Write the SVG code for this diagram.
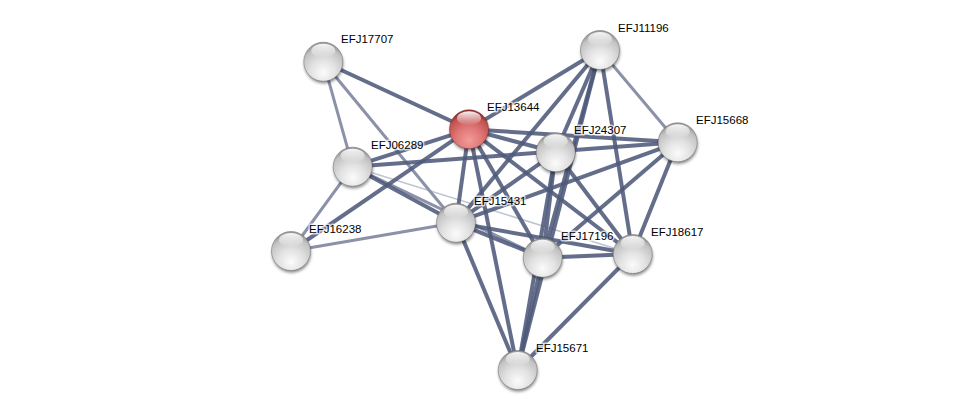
<svg xmlns="http://www.w3.org/2000/svg" width="976" height="414" viewBox="0 0 976 414">
<defs>
<style>
.e{fill:none;stroke-linecap:butt}
.s{stroke:#4f5a7b;stroke-width:4;stroke-opacity:0.88}
.m{stroke:#8a91a9;stroke-width:3}
.t{stroke:#c0c4d2;stroke-width:1.5}
.lbl{font-family:"Liberation Sans",Arial,sans-serif;font-size:11.5px;fill:#000;stroke:#fff;stroke-width:3;stroke-opacity:0.7;paint-order:stroke;stroke-linejoin:round}
.edge{stroke:#6a6a6a;stroke-width:0.8;stroke-opacity:0.6}
</style>
<radialGradient id="gg" cx="50%" cy="78%" r="72%">
<stop offset="0" stop-color="#fbfbfb"/>
<stop offset="0.45" stop-color="#e2e2e2"/>
<stop offset="0.85" stop-color="#c2c2c2"/>
<stop offset="1" stop-color="#9a9a9a"/>
</radialGradient>
<radialGradient id="gr" cx="50%" cy="78%" r="72%">
<stop offset="0" stop-color="#f49a9a"/>
<stop offset="0.45" stop-color="#e07878"/>
<stop offset="0.85" stop-color="#c25050"/>
<stop offset="1" stop-color="#933030"/>
</radialGradient>
<linearGradient id="hl" x1="0" y1="0" x2="0" y2="1">
<stop offset="0" stop-color="#fff" stop-opacity="0.95"/>
<stop offset="1" stop-color="#fff" stop-opacity="0"/>
</linearGradient>
<filter id="sh" x="-50%" y="-50%" width="200%" height="200%">
<feGaussianBlur stdDeviation="1.6"/>
</filter>
<g id="sg">
<circle cx="0.5" cy="2.2" r="19.5" fill="#000" fill-opacity="0.45" filter="url(#sh)"/>
<circle cx="0" cy="0" r="19.5" fill="url(#gg)" class="edge"/>
<ellipse cx="0" cy="-11" rx="12" ry="7" fill="url(#hl)"/>
</g>
<g id="sr">
<circle cx="0.5" cy="2.2" r="19.5" fill="#000" fill-opacity="0.45" filter="url(#sh)"/>
<circle cx="0" cy="0" r="19.5" fill="url(#gr)" stroke="#7a2a2a" stroke-width="0.8" stroke-opacity="0.6"/>
<ellipse cx="0" cy="-11" rx="12" ry="7" fill="url(#hl)"/>
</g>
</defs>
<rect width="976" height="414" fill="#fff"/>
<g id="connectors" class="e">
<line class="e t" x1="352.7" y1="166.7" x2="632.7" y2="254"/>
<line class="e m" x1="323.3" y1="61.7" x2="352.7" y2="166.7"/>
<line class="e m" x1="323.3" y1="61.7" x2="456" y2="222.7"/>
<line class="e m" x1="352.7" y1="166.7" x2="291" y2="251"/>
<line class="e m" x1="291" y1="251" x2="456" y2="222.7"/>
<line class="e m" x1="600" y1="50" x2="677.7" y2="142.3"/>
<line class="e m" x1="352.7" y1="166.7" x2="542.7" y2="257.7"/>
<line class="e s" x1="323.3" y1="61.7" x2="469" y2="129.3"/>
<line class="e s" x1="352.7" y1="166.7" x2="469" y2="129.3"/>
<line class="e s" x1="291" y1="251" x2="469" y2="129.3"/>
<line class="e s" x1="352.7" y1="166.7" x2="677.7" y2="142.3"/>
<line class="e s" x1="352.7" y1="166.7" x2="456" y2="222.7"/>
<line class="e s" x1="469" y1="129.3" x2="600" y2="50"/>
<line class="e s" x1="469" y1="129.3" x2="555.7" y2="152.3"/>
<line class="e s" x1="469" y1="129.3" x2="677.7" y2="142.3"/>
<line class="e s" x1="469" y1="129.3" x2="456" y2="222.7"/>
<line class="e s" x1="469" y1="129.3" x2="517.7" y2="370"/>
<line class="e s" x1="469" y1="129.3" x2="542.7" y2="257.7"/>
<line class="e s" x1="469" y1="129.3" x2="632.7" y2="254"/>
<line class="e s" x1="600" y1="50" x2="456" y2="222.7"/>
<line class="e s" x1="600" y1="50" x2="555.7" y2="152.3"/>
<line class="e s" x1="600" y1="50" x2="542.7" y2="257.7"/>
<line class="e s" x1="600" y1="50" x2="517.7" y2="370"/>
<line class="e s" x1="600" y1="50" x2="632.7" y2="254"/>
<line class="e s" x1="555.7" y1="152.3" x2="456" y2="222.7"/>
<line class="e s" x1="555.7" y1="152.3" x2="542.7" y2="257.7"/>
<line class="e s" x1="555.7" y1="152.3" x2="517.7" y2="370"/>
<line class="e s" x1="555.7" y1="152.3" x2="632.7" y2="254"/>
<line class="e s" x1="677.7" y1="142.3" x2="456" y2="222.7"/>
<line class="e s" x1="677.7" y1="142.3" x2="542.7" y2="257.7"/>
<line class="e s" x1="677.7" y1="142.3" x2="632.7" y2="254"/>
<line class="e s" x1="456" y1="222.7" x2="542.7" y2="257.7"/>
<line class="e s" x1="456" y1="222.7" x2="632.7" y2="254"/>
<line class="e s" x1="456" y1="222.7" x2="517.7" y2="370"/>
<line class="e s" x1="542.7" y1="257.7" x2="632.7" y2="254"/>
<line class="e s" x1="542.7" y1="257.7" x2="517.7" y2="370"/>
<line class="e s" x1="632.7" y1="254" x2="517.7" y2="370"/>
</g>
<g id="EFJ17707"><use href="#sg" x="323.3" y="61.7"/><text class="lbl" x="341" y="43">EFJ17707</text></g>
<g id="EFJ11196"><use href="#sg" x="600" y="50"/><text class="lbl" x="618" y="32">EFJ11196</text></g>
<g id="EFJ13644"><use href="#sr" x="469" y="129.3"/><text class="lbl" x="487" y="111">EFJ13644</text></g>
<g id="EFJ24307"><use href="#sg" x="555.7" y="152.3"/><text class="lbl" x="574" y="134">EFJ24307</text></g>
<g id="EFJ15668"><use href="#sg" x="677.7" y="142.3"/><text class="lbl" x="696" y="124">EFJ15668</text></g>
<g id="EFJ06289"><use href="#sg" x="352.7" y="166.7"/><text class="lbl" x="371" y="149">EFJ06289</text></g>
<g id="EFJ15431"><use href="#sg" x="456" y="222.7"/><text class="lbl" x="474" y="205">EFJ15431</text></g>
<g id="EFJ16238"><use href="#sg" x="291" y="251"/><text class="lbl" x="309" y="233">EFJ16238</text></g>
<g id="EFJ17196"><use href="#sg" x="542.7" y="257.7"/><text class="lbl" x="561" y="240">EFJ17196</text></g>
<g id="EFJ18617"><use href="#sg" x="632.7" y="254"/><text class="lbl" x="651" y="236">EFJ18617</text></g>
<g id="EFJ15671"><use href="#sg" x="517.7" y="370"/><text class="lbl" x="536" y="352">EFJ15671</text></g>
</svg>
